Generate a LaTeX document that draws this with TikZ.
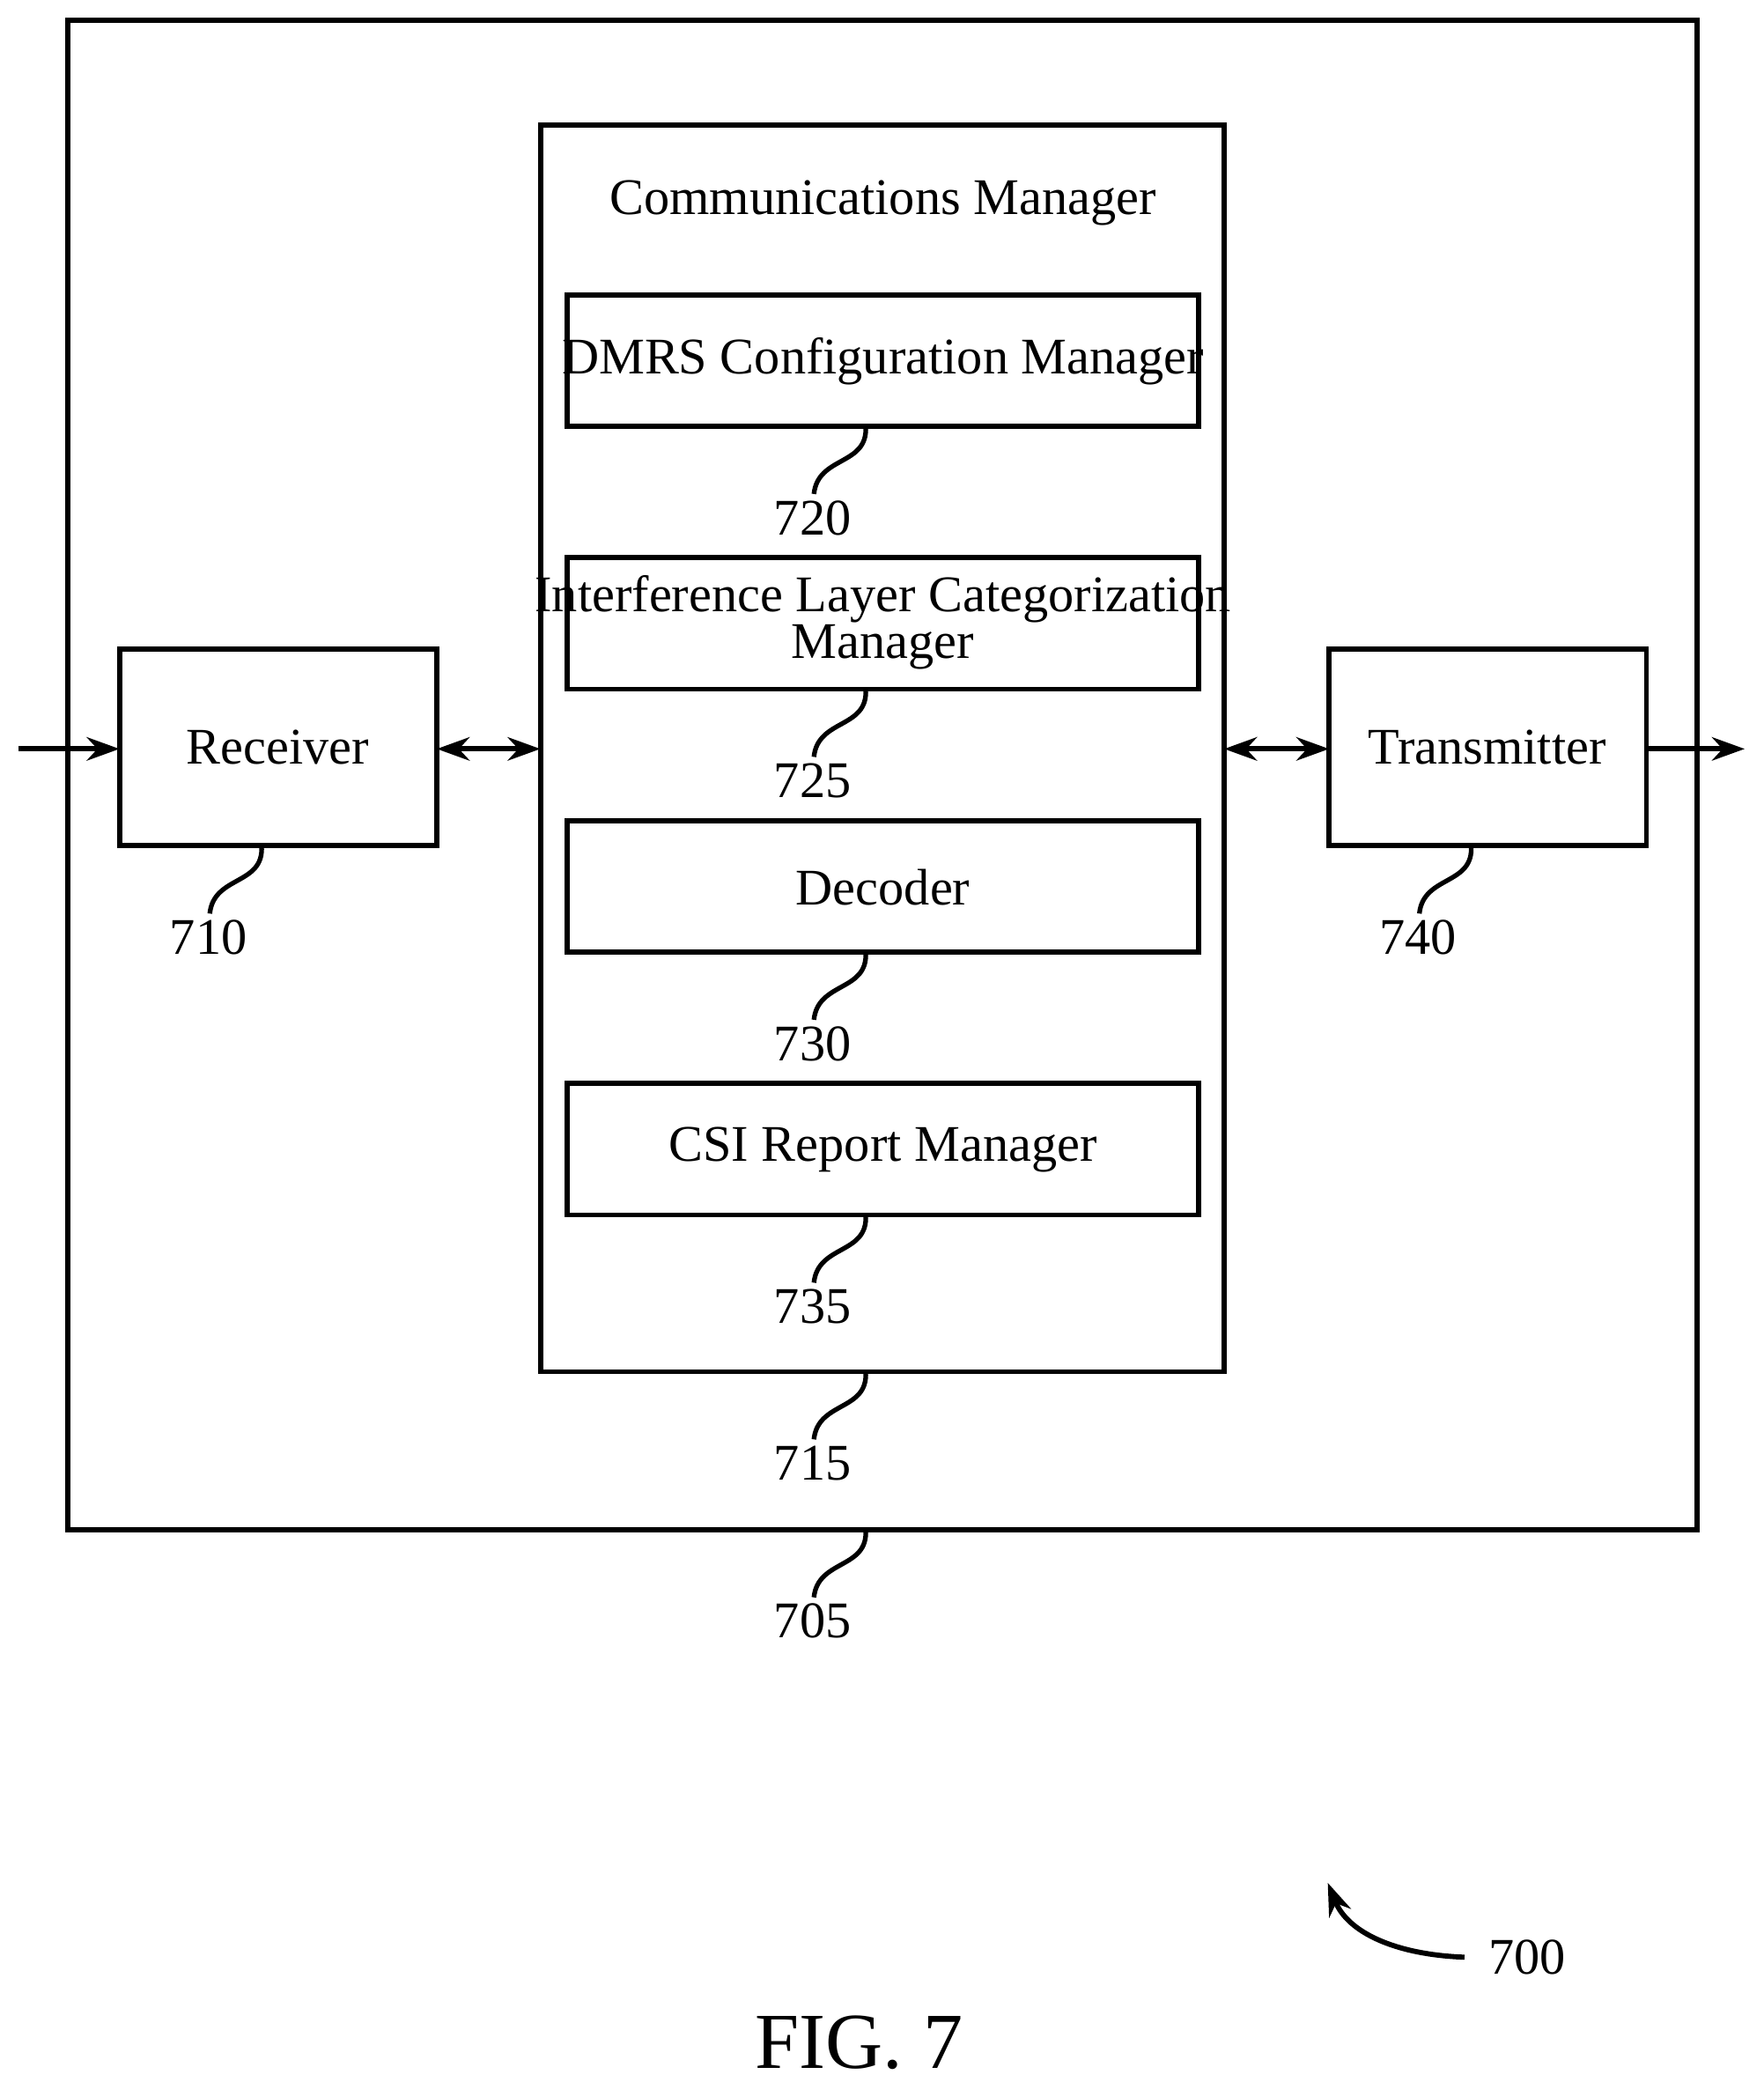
\documentclass[tikz,border=0pt]{standalone}
\usepackage{fontspec}
\setmainfont{Liberation Serif}
\usetikzlibrary{arrows.meta}
\begin{document}
\begin{tikzpicture}[x=0.01cm,y=-0.01cm,
  box/.style={draw,line width=1.1pt},
  lbl/.style={font=\fontsize{11}{13}\selectfont},
  arr/.style={line width=1.1pt,-{Stealth[length=7pt,width=5pt]}},
  darr/.style={line width=1.1pt,{Stealth[length=7pt,width=5pt]}-{Stealth[length=7pt,width=5pt]}},
  sq/.style={line width=1pt}]
\useasboundingbox (0,0) rectangle (1328,1568);
\draw[box] (51,15) rectangle (1278,1152);
\draw[box] (407,94) rectangle (922,1033);
\node[lbl] (cmt) at (665,153) {Communications Manager};
\draw[box] (427,222) rectangle (903,321);
\node[lbl] (dmrs) at (665,272) {DMRS Configuration Manager};
\draw[box] (427,420) rectangle (903,519);
\node[lbl,align=center] (ilc) at (665,469) {Interference Layer Categorization\\[-3pt]Manager};
\draw[box] (427,618) rectangle (903,717);
\node[lbl] (dec) at (665,668) {Decoder};
\draw[box] (427,816) rectangle (903,915);
\node[lbl] (csi) at (665,866) {CSI Report Manager};
\draw[box] (90,489) rectangle (329,637);
\node[lbl] (rx) at (209,563) {Receiver};
\draw[box] (1001,489) rectangle (1240,637);
\node[lbl] (tx) at (1120,563) {Transmitter};
\coordinate (in) at (14,564); \coordinate (rxl) at (90,564); \coordinate (rxr) at (329,564);
\coordinate (cml) at (407,564); \coordinate (cmr) at (922,564);
\coordinate (txl) at (1001,564); \coordinate (txr) at (1240,564); \coordinate (out) at (1314,564);
\draw[arr] (in) -- (rxl);
\draw[darr] (rxr) -- (cml);
\draw[darr] (cmr) -- (txl);
\draw[arr] (txr) -- (out);
\foreach \x/\y/\t in {652/321/720,652/519/725,652/717/730,652/915/735,652/1033/715,652/1152/705,197/637/710,1108/637/740}{
  \draw[sq] (\x,\y) .. controls (\x+2,\y+30) and (\x-36,\y+22) .. (\x-39,\y+51);
  \node[lbl] at (\x-40,\y+69) {\t};
}
\coordinate (a0) at (1103,1474); \coordinate (a1) at (1000,1418);
\draw[arr] (a0) .. controls (1050,1472) and (1015,1455) .. (a1);
\node[lbl] (n700) at (1150,1474) {700};
\node[font=\fontsize{17}{20}\selectfont] (fig) at (647,1538) {FIG. 7};
\end{tikzpicture}
\end{document}
